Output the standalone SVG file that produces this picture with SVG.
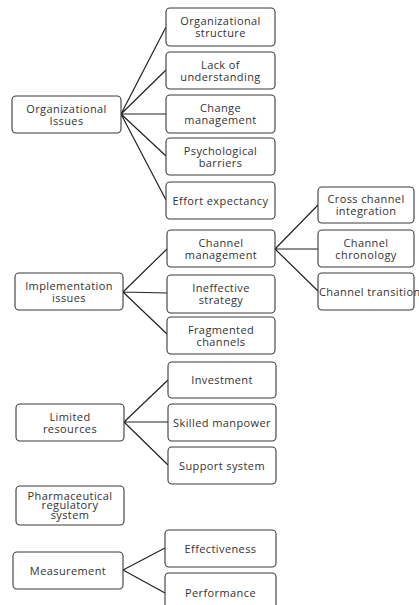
<svg xmlns="http://www.w3.org/2000/svg" width="419" height="605" viewBox="0 0 419 605">
<style>
.box{fill:#fff;stroke:#3a3a3a;stroke-width:1.1}
.t{font-family:"Open Sans","Liberation Sans",sans-serif;font-size:11px;letter-spacing:0.4px;fill:#333;text-anchor:middle}
.c{stroke:#222;stroke-width:1.2;fill:none}
</style>
<rect width="419" height="605" fill="#fff"/>
<g id="connectors">
<path class="c" d="M121,114 L166,27 M121,114 L166,70 M121,114 L166,114 M121,114 L166,156 M121,114 L166,200"/>
<path class="c" d="M123,292 L167,249 M123,292 L167,293 M123,292 L167,334"/>
<path class="c" d="M275,249 L318,205 M275,249 L318,249 M275,249 L318,291"/>
<path class="c" d="M124,422 L168,380 M124,422 L168,422 M124,422 L168,465"/>
<path class="c" d="M123,570 L165,548 M123,570 L165,593"/>
</g>
<g id="org-issues"><rect class="box" x="12" y="96" width="109" height="37" rx="4"/><text class="t" x="66.5" y="112.5">Organizational</text><text class="t" x="66.5" y="124.5">Issues</text></g>
<g id="org-structure"><rect class="box" x="166" y="8" width="109" height="38" rx="4"/><text class="t" x="220.5" y="25">Organizational</text><text class="t" x="220.5" y="37">structure</text></g>
<g id="lack-understanding"><rect class="box" x="166" y="52" width="109" height="37" rx="4"/><text class="t" x="220.5" y="68.5">Lack of</text><text class="t" x="220.5" y="80.5">understanding</text></g>
<g id="change-management"><rect class="box" x="166" y="95" width="109" height="38" rx="4"/><text class="t" x="220.5" y="112">Change</text><text class="t" x="220.5" y="124">management</text></g>
<g id="psych-barriers"><rect class="box" x="166" y="138" width="109" height="37" rx="4"/><text class="t" x="220.5" y="154.5">Psychological</text><text class="t" x="220.5" y="166.5">barriers</text></g>
<g id="effort-expectancy"><rect class="box" x="166" y="182" width="109" height="37" rx="4"/><text class="t" x="220.5" y="204.5">Effort expectancy</text></g>

<g id="implementation-issues"><rect class="box" x="15" y="273" width="108" height="37" rx="4"/><text class="t" x="69" y="289.5">Implementation</text><text class="t" x="69" y="301.5">issues</text></g>
<g id="channel-management"><rect class="box" x="167" y="230" width="108" height="37" rx="4"/><text class="t" x="221" y="246.5">Channel</text><text class="t" x="221" y="258.5">management</text></g>
<g id="ineffective-strategy"><rect class="box" x="167" y="275" width="108" height="38" rx="4"/><text class="t" x="221" y="292">Ineffective</text><text class="t" x="221" y="304">strategy</text></g>
<g id="fragmented-channels"><rect class="box" x="167" y="317" width="108" height="37" rx="4"/><text class="t" x="221" y="333.5">Fragmented</text><text class="t" x="221" y="345.5">channels</text></g>
<g id="cross-channel"><rect class="box" x="318" y="187" width="96" height="36" rx="4"/><text class="t" x="366" y="203">Cross channel</text><text class="t" x="366" y="215">integration</text></g>
<g id="channel-chronology"><rect class="box" x="318" y="230" width="96" height="37" rx="4"/><text class="t" x="366" y="246.5">Channel</text><text class="t" x="366" y="258.5">chronology</text></g>
<g id="channel-transition"><rect class="box" x="318" y="273" width="96" height="37" rx="4"/><text class="t" x="319" y="295.5" style="text-anchor:start">Channel transition</text></g>

<g id="limited-resources"><rect class="box" x="16" y="404" width="108" height="37" rx="4"/><text class="t" x="70" y="420.5">Limited</text><text class="t" x="70" y="432.5">resources</text></g>
<g id="investment"><rect class="box" x="168" y="362" width="108" height="36" rx="4"/><text class="t" x="222" y="384">Investment</text></g>
<g id="skilled-manpower"><rect class="box" x="168" y="404" width="108" height="37" rx="4"/><text class="t" x="222" y="426.5">Skilled manpower</text></g>
<g id="support-system"><rect class="box" x="168" y="447" width="108" height="37" rx="4"/><text class="t" x="222" y="469.5">Support system</text></g>

<g id="pharma-regulatory"><rect class="box" x="16" y="486" width="108" height="39" rx="4"/><text class="t" x="70" y="499.5">Pharmaceutical</text><text class="t" x="70" y="509">regulatory</text><text class="t" x="70" y="518.5">system</text></g>

<g id="measurement"><rect class="box" x="13" y="552" width="110" height="37" rx="4"/><text class="t" x="68" y="574.5">Measurement</text></g>
<g id="effectiveness"><rect class="box" x="165" y="530" width="111" height="37" rx="4"/><text class="t" x="220.5" y="552.5">Effectiveness</text></g>
<g id="performance"><rect class="box" x="165" y="573" width="111" height="40" rx="4"/><text class="t" x="220.5" y="596.5">Performance</text></g>
</svg>
